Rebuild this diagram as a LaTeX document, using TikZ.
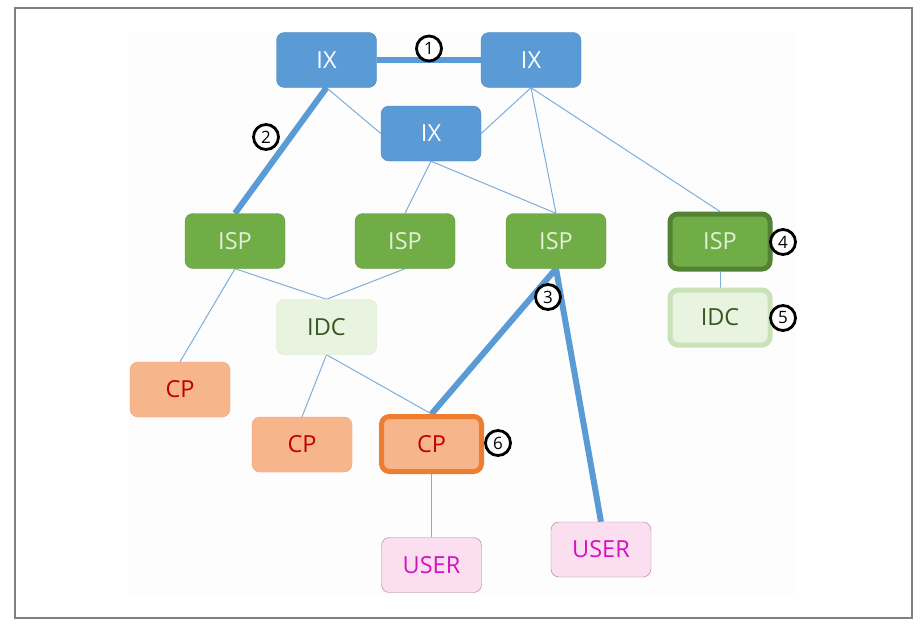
\documentclass[tikz,border=0pt]{standalone}
\usepackage{fontspec}
\setmainfont{Open Sans}
\usepackage{tikz}
\usetikzlibrary{positioning,backgrounds}
\definecolor{ixblue}{HTML}{5B9BD5}
\definecolor{ixedge}{HTML}{4A86C0}
\definecolor{linkblue}{HTML}{7EAEDC}
\definecolor{ispgreen}{HTML}{70AD47}
\definecolor{ispedge}{HTML}{5E9638}
\definecolor{ispdark}{HTML}{548235}
\definecolor{ispfont}{HTML}{E2F0D9}
\definecolor{idcfill}{HTML}{E8F3E0}
\definecolor{idcedge}{HTML}{D3E8C6}
\definecolor{idcthick}{HTML}{C9E2B8}
\definecolor{idcfont}{HTML}{385723}
\definecolor{cpfill}{HTML}{F7B58C}
\definecolor{cpedge}{HTML}{F1A271}
\definecolor{cpthick}{HTML}{ED7D31}
\definecolor{cpfont}{HTML}{C00000}
\definecolor{userfill}{HTML}{FBDEF0}
\definecolor{useredge}{HTML}{B07896}
\definecolor{userfont}{HTML}{D412BE}
\definecolor{framegray}{HTML}{808080}
\definecolor{panel}{HTML}{FDFDFD}

\begin{document}
\begin{tikzpicture}[x=1pt,y=-1pt,
    box/.style={rectangle, rounded corners=8pt, minimum width=100pt, minimum height=55pt,
        inner sep=0pt, font=\fontsize{23.5}{26}\selectfont},
    ixbox/.style={box, fill=ixblue, draw=ixedge, text=white},
    ispbox/.style={box, fill=ispgreen, draw=ispedge, text=ispfont},
    idcbox/.style={box, fill=idcfill, draw=idcedge, text=idcfont},
    cpbox/.style={box, fill=cpfill, draw=cpedge, text=cpfont},
    userbox/.style={box, fill=userfill, draw=useredge, text=userfont},
    thinlink/.style={draw=linkblue, line width=1pt},
    thicklink/.style={draw=ixblue, line width=6pt},
    numtag/.style={circle, draw=black, line width=2.8pt, fill=white, minimum size=25pt,
        inner sep=0pt, font=\fontsize{17}{17}\selectfont}
]
    \useasboundingbox (0,0) rectangle (921,626);
    \draw[framegray, line width=2pt] (15,8) rectangle (912,618);

    % exchange points
    \node[ixbox] (ixa) at (326.5,60) {IX};
    \node[ixbox] (ixb) at (531,60) {IX};
    \node[ixbox] (ixc) at (431,133.5) {IX};

    % providers
    \node[ispbox] (ispa) at (235,241) {ISP};
    \node[ispbox] (ispb) at (405,241) {ISP};
    \node[ispbox] (ispc) at (556,241) {ISP};
    \node[ispbox, draw=ispdark, line width=5pt] (ispd) at (720,241.5) {ISP};

    % data centres
    \node[idcbox] (idca) at (326.5,327) {IDC};
    \node[idcbox, draw=idcthick, line width=5pt] (idcb) at (720,317.5) {IDC};

    % content providers
    \node[cpbox] (cpa) at (180,389.5) {CP};
    \node[cpbox] (cpb) at (302,444.5) {CP};
    \node[cpbox, draw=cpthick, line width=5pt] (cpc) at (431.5,444) {CP};

    % users
    \node[userbox] (usera) at (431.5,565) {USER};
    \node[userbox] (userb) at (601,549.5) {USER};

    \begin{scope}[on background layer]
        \fill[panel] (128,32) rectangle (796,594);
        \draw[thinlink] (ixa.south) -- (ixc.west);
        \draw[thinlink] (ixb.south) -- (ixc.east);
        \draw[thinlink] (ixb.south) -- (ispc.north);
        \draw[thinlink] (ixb.south) -- (ispd.north);
        \draw[thinlink] (ixc.south) -- (ispb.north);
        \draw[thinlink] (ixc.south) -- (ispc.north);
        \draw[thinlink] (ispa.south) -- (idca.north);
        \draw[thinlink] (ispb.south) -- (idca.north);
        \draw[thinlink] (ispa.south) -- (cpa.north);
        \draw[thinlink] (idca.south) -- (cpb.north);
        \draw[thinlink] (idca.south) -- (cpc.north);
        \draw[thinlink] (ispd.south) -- (idcb.north);
        \draw[thinlink] (cpc.south) -- (usera.north);
        \draw[thicklink] (ixa.east) -- (ixb.west);
        \draw[thicklink] (ixa.south) -- (ispa.north);
        \draw[thicklink] (ispc.south) -- (cpc.north);
        \draw[thicklink] (ispc.south) -- (userb.north);
    \end{scope}

    % step numbers
    \node[numtag] (n1) at (429,48.5) {1};
    \node[numtag] (n2) at (266,137) {2};
    \node[numtag] (n3) at (548,297) {3};
    \node[numtag] (n4) at (783,242) {4};
    \node[numtag] (n5) at (783,318) {5};
    \node[numtag] (n6) at (498,443) {6};
\end{tikzpicture}
\end{document}
